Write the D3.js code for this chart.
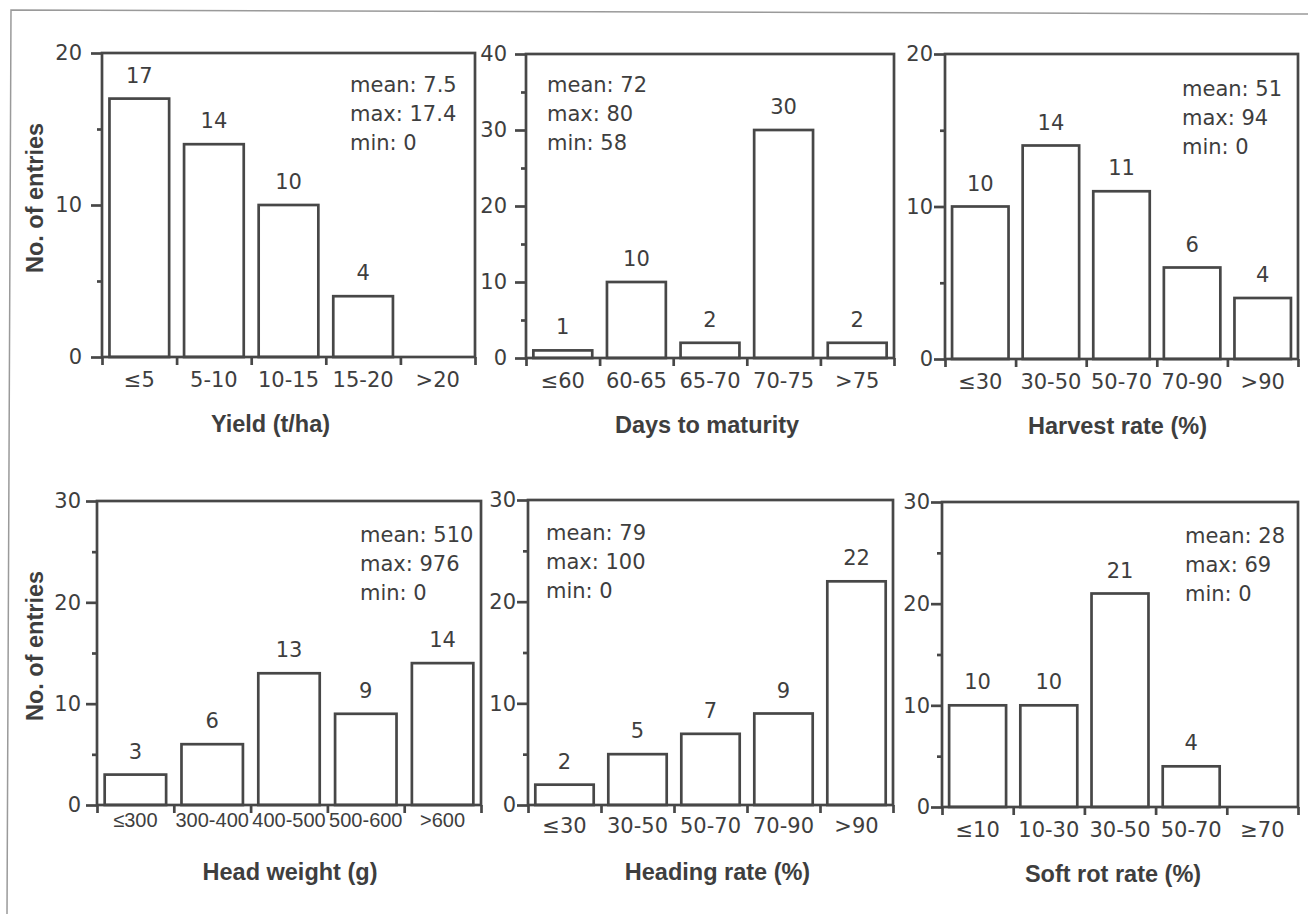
<!DOCTYPE html>
<html>
<head>
<meta charset="utf-8">
<script src="https://cdn.jsdelivr.net/npm/d3@7"></script>
<style>
  html, body { margin: 0; padding: 0; background: #ffffff; }
  svg { display: block; }
</style>
</head>
<body>
<script>
// Frequency of cabbage entries by trait class

const yieldBins = ["≤5", "5-10", "10-15", "15-20", ">20"];
const yieldCounts = [17, 14, 10, 4, 0];
const yieldStats = ["mean: 7.5", "max: 17.4", "min: 0"];

const maturityBins = ["≤60", "60-65", "65-70", "70-75", ">75"];
const maturityCounts = [1, 10, 2, 30, 2];
const maturityStats = ["mean: 72", "max: 80", "min: 58"];

const harvestBins = ["≤30", "30-50", "50-70", "70-90", ">90"];
const harvestCounts = [10, 14, 11, 6, 4];
const harvestStats = ["mean: 51", "max: 94", "min: 0"];

const headWeightBins = ["≤300", "300-400", "400-500", "500-600", ">600"];
const headWeightCounts = [3, 6, 13, 9, 14];
const headWeightStats = ["mean: 510", "max: 976", "min: 0"];

const headingBins = ["≤30", "30-50", "50-70", "70-90", ">90"];
const headingCounts = [2, 5, 7, 9, 22];
const headingStats = ["mean: 79", "max: 100", "min: 0"];

const softRotBins = ["≤10", "10-30", "30-50", "50-70", "≥70"];
const softRotCounts = [10, 10, 21, 4, 0];
const softRotStats = ["mean: 28", "max: 69", "min: 0"];

const traitTitles = ["Yield (t/ha)", "Days to maturity", "Harvest rate (%)",
                     "Head weight (g)", "Heading rate (%)", "Soft rot rate (%)"];
const countMax = [20, 40, 20, 30, 30, 30];
const countAxisTitle = "No. of entries";

// ---- drawing ----
const W = 1308, H = 914;
const ink = "#474747";
const textInk = "#3e3e3e";
const regFont = "'DejaVu Sans', sans-serif";
const narrowFont = "'Liberation Sans', Arial, sans-serif";
const boldFont = "'Liberation Sans', Arial, sans-serif";

const svg = d3.select("body").append("svg")
  .attr("width", W).attr("height", H)
  .attr("viewBox", `0 0 ${W} ${H}`);

svg.append("rect").attr("width", W).attr("height", H).attr("fill", "#ffffff");

// sheet border (top and left edges only)
svg.append("path")
  .attr("d", "M1308,14 L11,10 L7,914")
  .attr("fill", "none").attr("stroke", "#9a9a9a").attr("stroke-width", 1.5);

const panels = [
  { bins: yieldBins, counts: yieldCounts, stats: yieldStats,
    frame: { x0: 102, x1: 475, y0: 53, y1: 357 }, gap: 9, catPad: 15, catSize: 21, catFont: regFont,
    statX: 350, statY: 92, titleDx: -18, yTitle: true },
  { bins: maturityBins, counts: maturityCounts, stats: maturityStats,
    frame: { x0: 526, x1: 894, y0: 54, y1: 358 }, gap: 8, catPad: 15, catSize: 21, catFont: regFont,
    statX: 547, statY: 92, titleDx: -3, yTitle: false },
  { bins: harvestBins, counts: harvestCounts, stats: harvestStats,
    frame: { x0: 945, x1: 1298, y0: 54, y1: 359 }, gap: 1, catPad: 15, catSize: 21, catFont: regFont,
    statX: 1182, statY: 96, titleDx: -4, yTitle: false },
  { bins: headWeightBins, counts: headWeightCounts, stats: headWeightStats,
    frame: { x0: 97, x1: 481, y0: 501, y1: 805 }, gap: 5, catPad: 8, catSize: 20, catFont: narrowFont,
    statX: 360, statY: 542, titleDx: 1, yTitle: true },
  { bins: headingBins, counts: headingCounts, stats: headingStats,
    frame: { x0: 528, x1: 893, y0: 500, y1: 805 }, gap: 1, catPad: 13, catSize: 21, catFont: regFont,
    statX: 546, statY: 540, titleDx: 7, yTitle: false },
  { bins: softRotBins, counts: softRotCounts, stats: softRotStats,
    frame: { x0: 942, x1: 1298, y0: 502, y1: 807 }, gap: 1, catPad: 15, catSize: 21, catFont: regFont,
    statX: 1185, statY: 543, titleDx: -7, yTitle: false }
];

function styleAxis(sel, fontSize, family) {
  sel.select(".domain").remove();
  sel.selectAll(".tick line").attr("stroke", ink).attr("stroke-width", 2.7);
  sel.selectAll(".tick text")
    .style("font-family", family || regFont)
    .style("font-size", fontSize + "px")
    .attr("fill", textInk);
}

panels.forEach((p, i) => {
  const f = p.frame;
  const g = svg.append("g");
  const yMax = countMax[i];

  const x = d3.scaleBand().domain(p.bins).range([f.x0, f.x1])
    .paddingInner(0.2).paddingOuter(0.1);
  const xEdge = d3.scaleLinear().domain([0, p.bins.length]).range([f.x0, f.x1]);
  const y = d3.scaleLinear().domain([0, yMax]).range([f.y1, f.y0]);

  // minor count ticks
  g.append("g").attr("transform", `translate(${f.x0},0)`)
    .call(d3.axisLeft(y).tickValues(d3.range(5, yMax, 10)).tickSize(5).tickFormat(""))
    .call(s => styleAxis(s, 21));

  // major count ticks with labels
  g.append("g").attr("transform", `translate(${f.x0},0)`)
    .call(d3.axisLeft(y).tickValues(d3.range(0, yMax + 1, 10)).tickSize(11).tickPadding(p.gap))
    .call(s => styleAxis(s, 21));

  // class boundary ticks
  g.append("g").attr("transform", `translate(0,${f.y1})`)
    .call(d3.axisBottom(xEdge).tickValues(d3.range(0, p.bins.length + 1)).tickSize(8).tickFormat(""))
    .call(s => styleAxis(s, 21));

  // class labels
  g.append("g").attr("transform", `translate(0,${f.y1})`)
    .call(d3.axisBottom(x).tickSize(0).tickPadding(p.catPad))
    .call(s => styleAxis(s, p.catSize, p.catFont));

  // bars (empty classes are left blank)
  const rows = p.bins.map((b, k) => ({ bin: b, n: p.counts[k] })).filter(d => d.n > 0);

  g.selectAll("rect.bar").data(rows).join("rect")
    .attr("class", "bar")
    .attr("x", d => x(d.bin))
    .attr("y", d => y(d.n))
    .attr("width", x.bandwidth())
    .attr("height", d => y(0) - y(d.n))
    .attr("fill", "#ffffff")
    .attr("stroke", ink)
    .attr("stroke-width", 2.7);

  g.selectAll("text.count").data(rows).join("text")
    .attr("class", "count")
    .attr("x", d => x(d.bin) + x.bandwidth() / 2)
    .attr("y", d => y(d.n) - 16)
    .attr("text-anchor", "middle")
    .style("font-family", regFont)
    .style("font-size", "21px")
    .attr("fill", textInk)
    .text(d => d.n);

  // plot frame
  g.append("rect")
    .attr("x", f.x0).attr("y", f.y0)
    .attr("width", f.x1 - f.x0).attr("height", f.y1 - f.y0)
    .attr("fill", "none").attr("stroke", ink).attr("stroke-width", 2.7);

  // summary statistics
  g.selectAll("text.stat").data(p.stats).join("text")
    .attr("class", "stat")
    .attr("x", p.statX)
    .attr("y", (d, k) => p.statY + k * 29)
    .style("font-family", regFont)
    .style("font-size", "21px")
    .attr("fill", textInk)
    .text(d => d);

  // trait title
  g.append("text")
    .attr("x", (f.x0 + f.x1) / 2 + p.titleDx)
    .attr("y", f.y1 + 75)
    .attr("text-anchor", "middle")
    .style("font-family", boldFont)
    .style("font-weight", "bold")
    .style("font-size", "23.5px")
    .attr("fill", textInk)
    .text(traitTitles[i]);

  if (p.yTitle) {
    g.append("text")
      .attr("transform", `translate(43,${(f.y0 + f.y1) / 2 - 7}) rotate(-90)`)
      .attr("text-anchor", "middle")
      .style("font-family", boldFont)
      .style("font-weight", "bold")
      .style("font-size", "23.5px")
      .attr("fill", textInk)
      .text(countAxisTitle);
  }
});
</script>
</body>
</html>
